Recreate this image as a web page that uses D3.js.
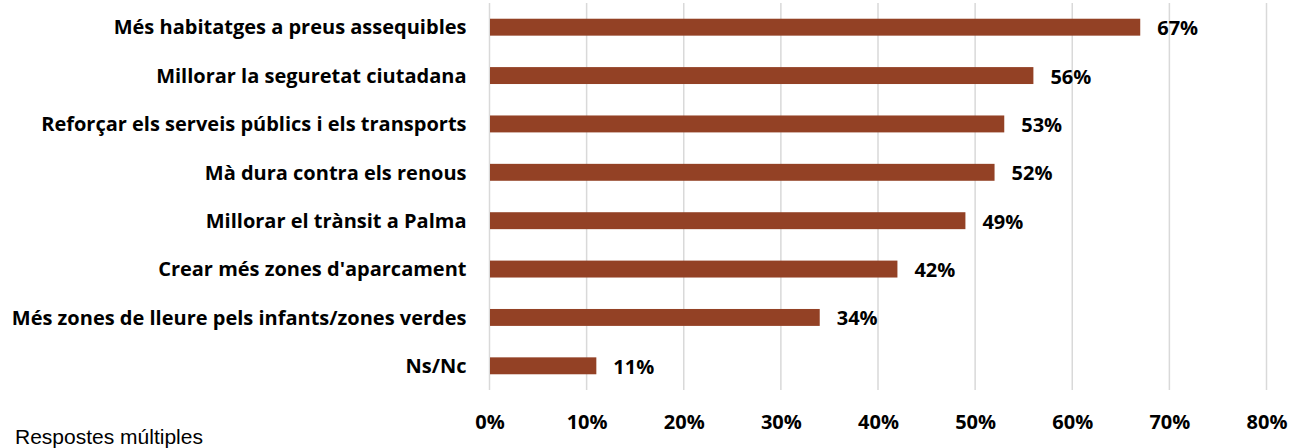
<!DOCTYPE html>
<html>
<head>
<meta charset="utf-8">
<script src="https://cdn.jsdelivr.net/npm/d3@7"></script>
<style>
  body { margin: 0; background: #fff; }
  svg text { fill: #000; }
</style>
</head>
<body>
<div id="chart"></div>
<script>
// chart data
const categories = [
  "Més habitatges a preus assequibles",
  "Millorar la seguretat ciutadana",
  "Reforçar els serveis públics i els transports",
  "Mà dura contra els renous",
  "Millorar el trànsit a Palma",
  "Crear més zones d'aparcament",
  "Més zones de lleure pels infants/zones verdes",
  "Ns/Nc"
]
const values = [67, 56, 53, 52, 49, 42, 34, 11]
const ticks = [0, 10, 20, 30, 40, 50, 60, 70, 80]
const note = "Respostes múltiples"

const w = 1295
const h = 448
const plotLeft = 489.5
const plotRight = 1266.5
const plotTop = 3
const plotBottom = 390
const font = "'Open Sans', sans-serif"

const svg = d3.select("#chart")
  .append("svg")
  .attr("width", w)
  .attr("height", h)

const xScale = d3.scaleLinear()
  .domain([0, 80])
  .range([plotLeft, plotRight])

const yScale = d3.scaleBand()
  .domain(categories)
  .range([plotTop, plotBottom])
  .paddingInner(0.65)
  .paddingOuter(0.325)

// gridlines
svg.append("g")
  .selectAll("line")
  .data(ticks)
  .enter()
  .append("line")
  .attr("x1", d => xScale(d))
  .attr("x2", d => xScale(d))
  .attr("y1", plotTop)
  .attr("y2", plotBottom)
  .attr("stroke", "#d9d9d9")
  .attr("stroke-width", 1.5)

// x axis labels
const xAxis = d3.axisBottom(xScale)
  .tickValues(ticks)
  .tickFormat(d => d + "%")
  .tickSize(0)
  .tickPadding(0)

svg.append("g")
  .attr("id", "x-axis")
  .attr("transform", "translate(0," + plotBottom + ")")
  .call(xAxis)
  .call(g => g.select(".domain").remove())
  .call(g => g.selectAll("text")
    .attr("dy", null)
    .attr("y", 39)
    .style("font-family", font)
    .style("font-weight", "bold")
    .style("font-size", "20px")
    .attr("fill", "#000"))

// y axis labels
const yAxis = d3.axisLeft(yScale)
  .tickSize(0)
  .tickPadding(23)

svg.append("g")
  .attr("id", "y-axis")
  .attr("transform", "translate(" + plotLeft + ",0)")
  .call(yAxis)
  .call(g => g.select(".domain").remove())
  .call(g => g.selectAll("text")
    .attr("dy", "0.36em")
    .style("font-family", font)
    .style("font-weight", "bold")
    .style("font-size", "20px")
    .attr("fill", "#000"))

// bars
svg.selectAll("rect.bar")
  .data(values)
  .enter()
  .append("rect")
  .attr("class", "bar")
  .attr("x", xScale(0) + 0.5)
  .attr("y", (d, i) => yScale(categories[i]))
  .attr("width", d => xScale(d) - xScale(0) - 0.5)
  .attr("height", yScale.bandwidth())
  .attr("fill", "#934125")

// value labels
svg.selectAll("text.value")
  .data(values)
  .enter()
  .append("text")
  .attr("class", "value")
  .attr("x", d => xScale(d) + 17)
  .attr("y", (d, i) => yScale(categories[i]) + yScale.bandwidth() / 2)
  .attr("dy", "0.4em")
  .style("font-family", font)
  .style("font-weight", "bold")
  .style("font-size", "20px")
  .text(d => d + "%")

// footnote
svg.append("text")
  .attr("x", 15)
  .attr("y", 444)
  .style("font-family", "'Liberation Sans', Arial, sans-serif")
  .style("font-size", "21px")
  .text(note)
</script>
</body>
</html>
